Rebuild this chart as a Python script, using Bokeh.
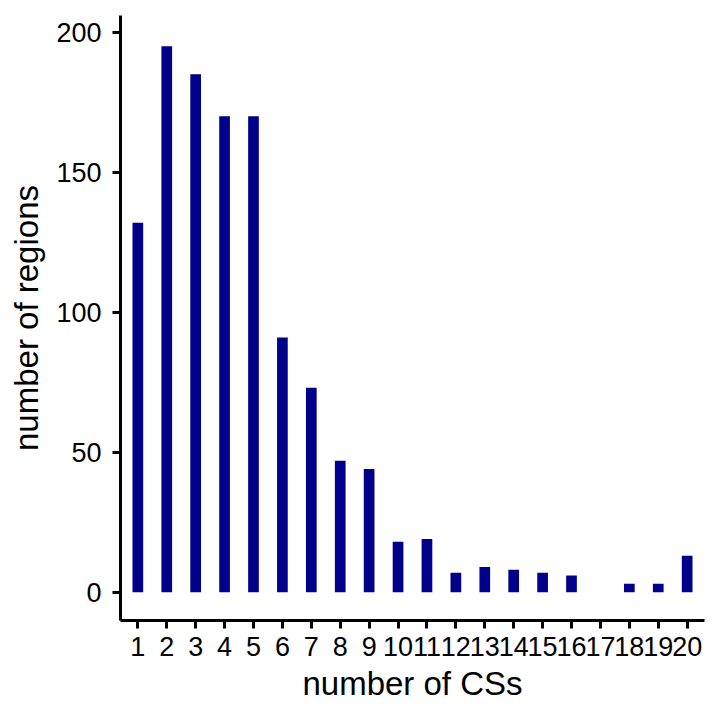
from bokeh.plotting import figure
from bokeh.models import Range1d, FixedTicker, ColumnDataSource
from bokeh.embed import file_html
from bokeh.resources import INLINE

# data
n_css = list(range(1, 21))
x_labels = [str(i) for i in n_css]
n_regions = [132, 195, 185, 170, 170, 91, 73, 47, 44, 18, 19, 7, 9, 8, 7, 6, 0, 3, 3, 13]
y_ticks = [0, 50, 100, 150, 200]

FONT = "Liberation Sans"

p = figure(width=720, height=720, output_backend="svg", toolbar_location=None,
           x_range=Range1d(0.4, 20.6), y_range=Range1d(-10.1, 206),
           min_border_left=120, min_border_right=16, min_border_top=15, min_border_bottom=100)

src = ColumnDataSource(dict(x=n_css, top=n_regions))
p.vbar(x="x", top="top", bottom=0, width=0.37, source=src,
       fill_color="#00008B", line_color=None)

p.xgrid.visible = False
p.ygrid.visible = False
p.outline_line_color = None
p.background_fill_color = "white"
p.border_fill_color = "white"

p.xaxis.ticker = FixedTicker(ticks=n_css)
p.xaxis.major_label_overrides = {i: s for i, s in zip(n_css, x_labels)}
p.yaxis.ticker = FixedTicker(ticks=y_ticks)

for ax in (p.xaxis[0], p.yaxis[0]):
    ax.axis_line_width = 3
    ax.axis_line_color = "black"
    ax.major_tick_line_width = 3
    ax.major_tick_line_color = "black"
    ax.major_tick_out = 8
    ax.major_tick_in = 0
    ax.minor_tick_out = 0
    ax.minor_tick_in = 0
    ax.major_label_text_font = FONT
    ax.major_label_text_font_size = "27px"
    ax.major_label_text_color = "black"
    ax.axis_label_text_font = FONT
    ax.axis_label_text_font_size = "33px"
    ax.axis_label_text_font_style = "normal"
    ax.axis_label_text_color = "black"

p.xaxis.axis_label = "number of CSs"
p.yaxis.axis_label = "number of regions"
p.xaxis.major_label_standoff = 8
p.yaxis.major_label_standoff = 11
p.xaxis.axis_label_standoff = 6
p.yaxis.axis_label_standoff = 8

open("out.html", "w").write(file_html(p, INLINE))
